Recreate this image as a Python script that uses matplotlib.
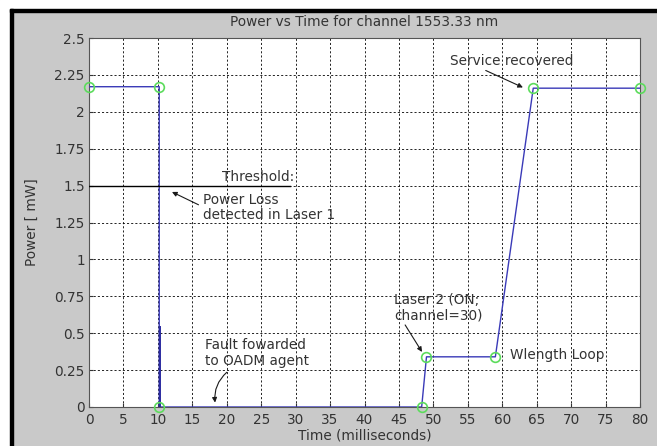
import matplotlib
matplotlib.use('Agg')
import matplotlib.pyplot as plt
from matplotlib.patches import Rectangle

# power trace (ms, mW)
time_ms = [0, 10.2, 10.2, 48.3, 49, 59, 64.5, 80]
power_mw = [2.17, 2.17, 0, 0, 0.34, 0.34, 2.16, 2.16]
# sampled points with green markers
mark_t = [0, 10.2, 10.2, 48.3, 49, 59, 64.5, 80]
mark_p = [2.17, 2.17, 0, 0, 0.34, 0.34, 2.16, 2.16]
# short spike at fault instant
spike_t = [10.35, 10.35]
spike_p = [0, 0.54]
threshold = 1.5
threshold_t = [0, 29.2]

x_ticks = list(range(0, 81, 5))
y_ticks = [0, 0.25, 0.5, 0.75, 1, 1.25, 1.5, 1.75, 2, 2.25, 2.5]
y_labels = ['0', '0.25', '0.5', '0.75', '1', '1.25', '1.5', '1.75', '2', '2.25', '2.5']

plt.rcParams['font.family'] = ['DejaVu Sans']
plt.rcParams['font.size'] = 9.8

txt = '#333333'
arr = dict(arrowstyle='-|>', color='#1a1a1a', lw=0.8, mutation_scale=7, shrinkA=0, shrinkB=0)

fig = plt.figure(figsize=(6.57, 4.46), dpi=100)
fig.patch.set_facecolor('#c9c9c9')
# white scan margin + black frame on top/left
fig.add_artist(Rectangle((0, 1 - 9 / 446), 1, 9 / 446, transform=fig.transFigure, color='white', zorder=-5))
fig.add_artist(Rectangle((0, 0), 10 / 657, 1, transform=fig.transFigure, color='white', zorder=-5))
fig.add_artist(Rectangle((10 / 657, 1 - 12 / 446), 1, 3 / 446, transform=fig.transFigure, color='black', zorder=-4))
fig.add_artist(Rectangle((10 / 657, 0), 3 / 657, 1 - 9 / 446, transform=fig.transFigure, color='black', zorder=-4))

ax = fig.add_axes([89 / 657, 1 - 407 / 446, 551 / 657, 369 / 446])
ax.set_facecolor('white')

ax.plot(time_ms, power_mw, color='#3a3ab8', lw=1.0, zorder=3)
ax.plot(spike_t, spike_p, color='#2a2aa0', lw=1.4, zorder=3)
ax.plot(mark_t, mark_p, linestyle='none', marker='o', ms=7, mfc='none', mec='#5cdc5c', mew=1.2, zorder=4, clip_on=False)
ax.plot(threshold_t, [threshold, threshold], color='black', lw=1.0, zorder=3)

ax.set_xlim(0, 80)
ax.set_ylim(0, 2.5)
ax.set_xticks(x_ticks)
ax.set_yticks(y_ticks)
ax.set_yticklabels(y_labels)
ax.grid(True, color='black', linestyle=(0, (2.5, 2.5)), lw=0.6)
ax.tick_params(direction='in', length=3, color='#333333', labelcolor=txt)
ax.tick_params(axis='y', pad=3)
ax.tick_params(axis='x', pad=4)
for s in ax.spines.values():
    s.set_color('#555555')
    s.set_linewidth(0.8)

ax.set_title('Power vs Time for channel 1553.33 nm', color=txt, fontsize=9.8, y=1.043, va='center', pad=0)
ax.set_xlabel('Time (milliseconds)', color=txt, va='center')
ax.xaxis.set_label_coords(0.5, -0.077)
ax.set_ylabel('Power [ mW]', color=txt, va='center')
ax.yaxis.set_label_coords(-57 / 551, 0.5)

ax.text(19.3, 1.528, 'Threshold:', color=txt, va='baseline')

ax.text(16.6, 1.35, 'Power Loss\ndetected in Laser 1', color=txt, va='center', ha='left', linespacing=1.05)
ax.annotate('', xy=(12.05, 1.457), xytext=(15.9, 1.37), arrowprops=arr)

ax.text(16.8, 0.365, 'Fault fowarded\nto OADM agent', color=txt, va='center', ha='left', linespacing=1.15)
ax.annotate('', xy=(18.3, 0.03), xytext=(20.0, 0.235),
            arrowprops=dict(arr, connectionstyle='arc3,rad=0.25'))

ax.text(44.3, 0.675, 'Laser 2 (ON;\nchannel=30)', color=txt, va='center', ha='left', linespacing=1.15)
ax.annotate('', xy=(48.35, 0.373), xytext=(45.9, 0.556), arrowprops=arr)

ax.text(61.1, 0.352, 'Wlength Loop', color=txt, va='center', ha='left')

ax.text(52.4, 2.344, 'Service recovered', color=txt, va='center', ha='left')
ax.annotate('', xy=(63.0, 2.165), xytext=(57.6, 2.28), arrowprops=arr)

fig.savefig('out.png', dpi=100, facecolor=fig.get_facecolor())
